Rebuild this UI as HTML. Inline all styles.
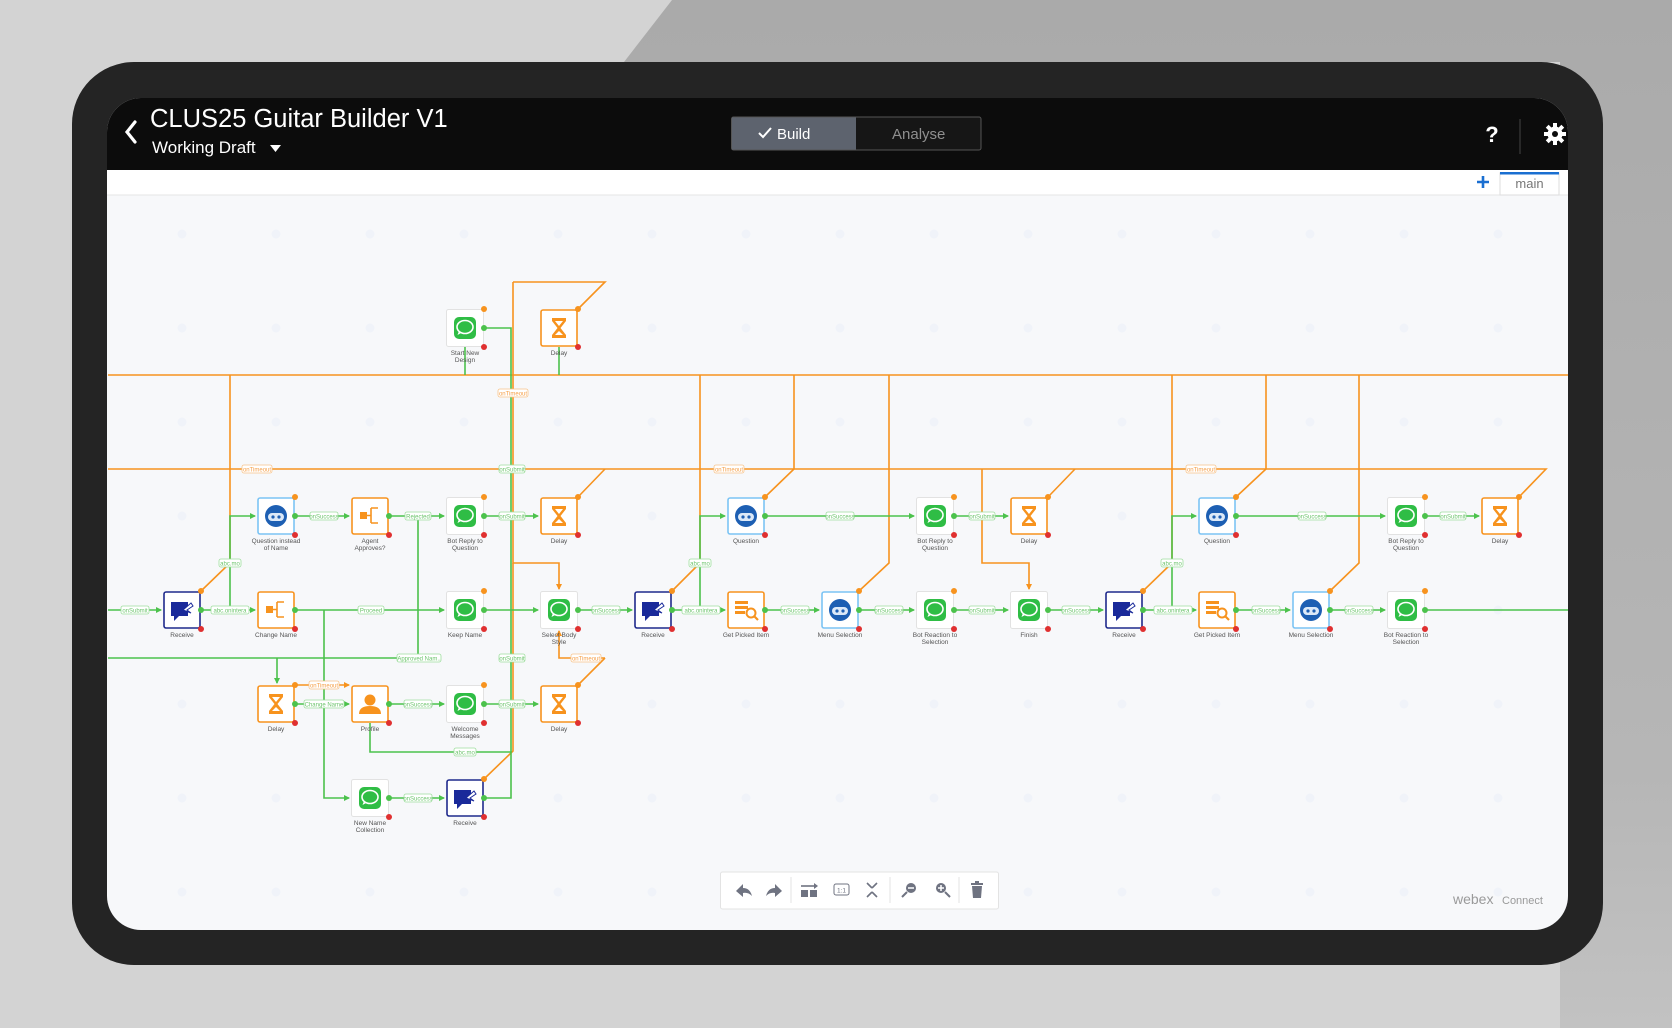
<!DOCTYPE html>
<html><head><meta charset="utf-8"><style>
html,body{margin:0;padding:0;width:1672px;height:1028px;overflow:hidden;background:#d2d2d2}
svg{display:block}
text{font-family:"Liberation Sans",sans-serif}
.nl{font-size:6.5px;fill:#555;text-anchor:middle}
.lg{font-size:6px;fill:#6cc46c;text-anchor:middle}
.lo{font-size:6px;fill:#f5a04a;text-anchor:middle}
</style></head><body>
<svg width="1672" height="1028" viewBox="0 0 1672 1028" xmlns="http://www.w3.org/2000/svg">
<defs>
<linearGradient id="bg" x1="0" y1="0" x2="0" y2="1"><stop offset="0" stop-color="#aaaaaa"/><stop offset="0.75" stop-color="#b6b6b6"/><stop offset="1" stop-color="#c2c2c2"/></linearGradient>
<marker id="ag" markerWidth="6" markerHeight="6" refX="5" refY="3" orient="auto" markerUnits="userSpaceOnUse"><path d="M0,0 L6,3 L0,6z" fill="#4cc24c"/></marker>
<marker id="ao" markerWidth="6" markerHeight="6" refX="5" refY="3" orient="auto" markerUnits="userSpaceOnUse"><path d="M0,0 L6,3 L0,6z" fill="#f7931e"/></marker>
<pattern id="dots" x="135" y="187" width="94" height="94" patternUnits="userSpaceOnUse"><circle cx="47" cy="47" r="4.5" fill="#f0f3f9"/></pattern>
<symbol id="msg" viewBox="0 0 38 38"><rect x="0.5" y="0.5" width="37" height="37" rx="2" fill="#fff" stroke="#e2e2e2"/><rect x="8" y="8" width="22" height="22" rx="5" fill="#2fbd45"/><ellipse cx="19" cy="18" rx="8" ry="6.5" fill="none" stroke="#fff" stroke-width="1.6"/><path d="M13 22 L11.5 26 L16 23.5" fill="#fff"/></symbol>
<symbol id="delay" viewBox="0 0 38 38"><rect x="1" y="1" width="36" height="36" rx="2" fill="#fff" stroke="#f7931e" stroke-width="1.6"/><path d="M12 9 H26 V12 L20.5 19 L26 26 V29 H12 V26 L17.5 19 L12 12z" fill="#f7931e"/><path d="M15 12 H23 L19 17z M15 26 L19 22 L23 26z" fill="#fff"/></symbol>
<symbol id="q" viewBox="0 0 38 38"><rect x="1" y="1" width="36" height="36" rx="2" fill="#fff" stroke="#7cc4f4" stroke-width="1.6"/><circle cx="19" cy="19" r="11" fill="#1d5fb3"/><rect x="11" y="16" width="16" height="8" rx="4" fill="#dce9f8"/><circle cx="16" cy="20" r="1.6" fill="#1d5fb3"/><circle cx="22" cy="20" r="1.6" fill="#1d5fb3"/></symbol>
<symbol id="rcv" viewBox="0 0 38 38"><rect x="1" y="1" width="36" height="36" rx="2" fill="#fff" stroke="#1f2a8c" stroke-width="1.6"/><path d="M8 11 H25 V25 H16 L11 30 V25 H8z" fill="#1a2a9a"/><path d="M20 19 L28 12 L30 15 L24 19 L28 22 Z" fill="#fff" stroke="#1a2a9a" stroke-width="1"/></symbol>
<symbol id="br" viewBox="0 0 38 38"><rect x="1" y="1" width="36" height="36" rx="2" fill="#fff" stroke="#f7931e" stroke-width="1.6"/><rect x="9" y="15" width="7" height="7" fill="#f7931e"/><path d="M16 18.5 H20 M20 11 V26 M20 11 H27 M20 26 H27" stroke="#f7931e" stroke-width="1.6" fill="none"/></symbol>
<symbol id="prof" viewBox="0 0 38 38"><rect x="1" y="1" width="36" height="36" rx="2" fill="#fff" stroke="#f7931e" stroke-width="1.6"/><circle cx="19" cy="15" r="5.5" fill="#f7931e"/><path d="M8 29 Q8 21 19 21 Q30 21 30 29z" fill="#f7931e"/></symbol>
<symbol id="gi" viewBox="0 0 38 38"><rect x="1" y="1" width="36" height="36" rx="2" fill="#fff" stroke="#f7931e" stroke-width="1.6"/><rect x="8" y="10" width="13" height="3" fill="#f7931e"/><rect x="8" y="15" width="13" height="3" fill="#f7931e"/><rect x="8" y="20" width="10" height="3" fill="#f7931e"/><circle cx="24" cy="22" r="4.5" fill="none" stroke="#f7931e" stroke-width="2"/><path d="M27 25 L31 29" stroke="#f7931e" stroke-width="2.2"/></symbol>
</defs>

<rect width="1672" height="1028" fill="#d3d3d3"/>
<polygon points="672,0 1672,0 1672,1028 1560,1028 1560,62 624,62" fill="url(#bg)"/>
<rect x="72" y="62" width="1531" height="903" rx="62" fill="#242424"/>
<clipPath id="scr"><rect x="107" y="98" width="1461" height="832" rx="34"/></clipPath>
<g clip-path="url(#scr)">
<rect x="107" y="98" width="1461" height="832" fill="#f7f8fa"/>
<rect x="107" y="195" width="1461" height="735" fill="url(#dots)"/>
<rect x="107" y="98" width="1461" height="72" fill="#0c0c0c"/>
<rect x="107" y="170" width="1461" height="25" fill="#fff"/>
<line x1="107" y1="195" x2="1568" y2="195" stroke="#e6e6e6"/>
</g>
<path d="M135 122 L127 132 L135 142" stroke="#fff" stroke-width="3.2" fill="none" stroke-linecap="round"/>
<text x="150" y="127" font-size="25.5" fill="#fff">CLUS25 Guitar Builder V1</text>
<text x="152" y="153" font-size="17" fill="#fff">Working Draft</text>
<path d="M270 145 H281 L275.5 152z" fill="#fff"/>
<rect x="731.5" y="117" width="249.5" height="33" rx="2" fill="#161616" stroke="#555"/>
<rect x="732" y="117.5" width="124" height="32" fill="#5d636e"/>
<path d="M759 133 L763 137 L771 128" stroke="#fff" stroke-width="2" fill="none"/>
<text x="777" y="139" font-size="15" fill="#fff">Build</text>
<text x="892" y="139" font-size="15" fill="#8f8f8f">Analyse</text>
<text x="1492" y="142" font-size="22" fill="#fff" text-anchor="middle" font-weight="bold">?</text>
<line x1="1520" y1="119" x2="1520" y2="154" stroke="#444"/>
<g transform="translate(1555,134)" fill="#fff"><circle r="7.5"/><g stroke="#fff" stroke-width="4"><line x1="0" y1="-11" x2="0" y2="11"/><line x1="-11" y1="0" x2="11" y2="0"/><line x1="-7.8" y1="-7.8" x2="7.8" y2="7.8"/><line x1="-7.8" y1="7.8" x2="7.8" y2="-7.8"/></g><circle r="3" fill="#0c0c0c"/></g>
<path d="M1483 176 V188 M1477 182 H1489" stroke="#1a6fd1" stroke-width="2.6"/>
<rect x="1500" y="173" width="59" height="22" fill="#fff" stroke="#ddd"/>
<rect x="1500" y="172" width="59" height="2.5" fill="#1a6fd1"/>
<text x="1529.5" y="188" font-size="13" fill="#777" text-anchor="middle">main</text>

<g stroke="#f7931e" stroke-width="1.6" fill="none">
<path d="M108 375 H1568"/>
<path d="M108 469 H1546 L1519 497"/>
<path d="M605 469 L578 497"/><path d="M1075 469 L1048 497"/>
<path d="M513 282 H605 L578 309"/>
<path d="M513 282 V563 H559 V589" marker-end="url(#ao)"/>
<path d="M230 375 V563 L201 591"/>
<path d="M700 375 V563 L672 591"/>
<path d="M794 375 V469 L765 497"/>
<path d="M889 375 V563 L859 591"/>
<path d="M1172 375 V563 L1143 591"/>
<path d="M1266 375 V469 L1236 497"/>
<path d="M1359 375 V563 L1330 591"/>
<path d="M982 469 V563 H1029 V589" marker-end="url(#ao)"/>
<path d="M605 658 L578 685"/>
<path d="M605 658 H559 V631" marker-end="url(#ao)"/>
<path d="M484 779 L513 751 V563"/>
<path d="M295 685 H349" marker-end="url(#ao)"/>
</g>
<g stroke="#4cc24c" stroke-width="1.6" fill="none">
<path d="M108 610 H161" marker-end="url(#ag)"/>
<path d="M201 610 H255" marker-end="url(#ag)"/>
<path d="M295 610 H444" marker-end="url(#ag)"/>
<path d="M484 610 H538" marker-end="url(#ag)"/>
<path d="M578 610 H632" marker-end="url(#ag)"/>
<path d="M672 610 H725" marker-end="url(#ag)"/>
<path d="M765 610 H819" marker-end="url(#ag)"/>
<path d="M859 610 H914" marker-end="url(#ag)"/>
<path d="M954 610 H1008" marker-end="url(#ag)"/>
<path d="M1048 610 H1103" marker-end="url(#ag)"/>
<path d="M1143 610 H1196" marker-end="url(#ag)"/>
<path d="M1236 610 H1290" marker-end="url(#ag)"/>
<path d="M1330 610 H1385" marker-end="url(#ag)"/>
<path d="M1425 610 H1568"/>
<path d="M230 610 V516 H255" marker-end="url(#ag)"/>
<path d="M295 516 H349" marker-end="url(#ag)"/>
<path d="M389 516 H444" marker-end="url(#ag)"/>
<path d="M484 516 H538" marker-end="url(#ag)"/>
<path d="M418 516 V658 H108"/>
<path d="M277 658 V683" marker-end="url(#ag)"/>
<path d="M700 610 V516 H725" marker-end="url(#ag)"/>
<path d="M765 516 H914" marker-end="url(#ag)"/>
<path d="M954 516 H1008" marker-end="url(#ag)"/>
<path d="M1172 610 V516 H1196" marker-end="url(#ag)"/>
<path d="M1236 516 H1385" marker-end="url(#ag)"/>
<path d="M1425 516 H1479" marker-end="url(#ag)"/>
<path d="M324 610 V798 H349" marker-end="url(#ag)"/>
<path d="M295 704 H349" marker-end="url(#ag)"/>
<path d="M389 704 H444" marker-end="url(#ag)"/>
<path d="M484 704 H538" marker-end="url(#ag)"/>
<path d="M370 723 V752 H511"/>
<path d="M389 798 H444" marker-end="url(#ag)"/>
<path d="M484 798 H511 V328 H484"/>
<path d="M465 347 V375"/><path d="M559 347 V375"/>
</g>
<g stroke-width="0.8">
<g fill="#fff" stroke="#9ede9e">
<rect x="121" y="606" width="28" height="8" rx="2"/><rect x="211" y="606" width="38" height="8" rx="2"/>
<rect x="358" y="606" width="26" height="8" rx="2"/><rect x="592" y="606" width="28" height="8" rx="2"/>
<rect x="682" y="606" width="38" height="8" rx="2"/><rect x="781" y="606" width="28" height="8" rx="2"/>
<rect x="875" y="606" width="28" height="8" rx="2"/><rect x="969" y="606" width="26" height="8" rx="2"/>
<rect x="1062" y="606" width="28" height="8" rx="2"/><rect x="1154" y="606" width="38" height="8" rx="2"/>
<rect x="1252" y="606" width="28" height="8" rx="2"/><rect x="1345" y="606" width="28" height="8" rx="2"/>
<rect x="310" y="512" width="28" height="8" rx="2"/><rect x="405" y="512" width="26" height="8" rx="2"/>
<rect x="499" y="512" width="26" height="8" rx="2"/><rect x="826" y="512" width="28" height="8" rx="2"/>
<rect x="969" y="512" width="26" height="8" rx="2"/><rect x="1298" y="512" width="28" height="8" rx="2"/>
<rect x="1440" y="512" width="26" height="8" rx="2"/>
<rect x="219" y="559" width="22" height="8" rx="2"/><rect x="689" y="559" width="22" height="8" rx="2"/><rect x="1161" y="559" width="22" height="8" rx="2"/>
<rect x="397" y="654" width="44" height="8" rx="2"/><rect x="499" y="654" width="26" height="8" rx="2"/>
<rect x="499" y="465" width="26" height="8" rx="2"/>
<rect x="304" y="700" width="40" height="8" rx="2"/><rect x="404" y="700" width="28" height="8" rx="2"/><rect x="499" y="700" width="26" height="8" rx="2"/>
<rect x="454" y="748" width="22" height="8" rx="2"/><rect x="404" y="794" width="28" height="8" rx="2"/>
</g>
<g fill="#fff" stroke="#f8c48a">
<rect x="242" y="465" width="30" height="8" rx="2"/><rect x="714" y="465" width="30" height="8" rx="2"/><rect x="1186" y="465" width="30" height="8" rx="2"/>
<rect x="498" y="389" width="30" height="8" rx="2"/><rect x="571" y="654" width="30" height="8" rx="2"/><rect x="309" y="681" width="30" height="8" rx="2"/>
</g>
</g>
<g class="lg">
<text x="135" y="612.3">onSubmit</text><text x="230" y="612.3">abc.onintera</text><text x="371" y="612.3">Proceed</text>
<text x="606" y="612.3">onSuccess</text><text x="701" y="612.3">abc.onintera</text><text x="795" y="612.3">onSuccess</text>
<text x="889" y="612.3">onSuccess</text><text x="982" y="612.3">onSubmit</text><text x="1076" y="612.3">onSuccess</text>
<text x="1173" y="612.3">abc.onintera</text><text x="1266" y="612.3">onSuccess</text><text x="1359" y="612.3">onSuccess</text>
<text x="324" y="518.3">onSuccess</text><text x="418" y="518.3">Rejected</text><text x="512" y="518.3">onSubmit</text>
<text x="840" y="518.3">onSuccess</text><text x="982" y="518.3">onSubmit</text><text x="1312" y="518.3">onSuccess</text><text x="1453" y="518.3">onSubmit</text>
<text x="230" y="565.3">abc.mo</text><text x="700" y="565.3">abc.mo</text><text x="1172" y="565.3">abc.mo</text>
<text x="419" y="660.3">Approved Nam..</text><text x="512" y="660.3">onSubmit</text><text x="512" y="471.3">onSubmit</text>
<text x="324" y="706.3">Change Name</text><text x="418" y="706.3">onSuccess</text><text x="512" y="706.3">onSubmit</text>
<text x="465" y="754.3">abc.mo</text><text x="418" y="800.3">onSuccess</text>
</g>
<g class="lo">
<text x="257" y="471.3">onTimeout</text><text x="729" y="471.3">onTimeout</text><text x="1201" y="471.3">onTimeout</text>
<text x="513" y="395.3">onTimeout</text><text x="586" y="660.3">onTimeout</text><text x="324" y="687.3">onTimeout</text>
</g>

<g>
<use href="#msg" x="446" y="309" width="38" height="38"/><use href="#delay" x="540" y="309" width="38" height="38"/>
<use href="#q" x="257" y="497" width="38" height="38"/><use href="#br" x="351" y="497" width="38" height="38"/>
<use href="#msg" x="446" y="497" width="38" height="38"/><use href="#delay" x="540" y="497" width="38" height="38"/>
<use href="#q" x="727" y="497" width="38" height="38"/><use href="#msg" x="916" y="497" width="38" height="38"/>
<use href="#delay" x="1010" y="497" width="38" height="38"/><use href="#q" x="1198" y="497" width="38" height="38"/>
<use href="#msg" x="1387" y="497" width="38" height="38"/><use href="#delay" x="1481" y="497" width="38" height="38"/>
<use href="#rcv" x="163" y="591" width="38" height="38"/><use href="#br" x="257" y="591" width="38" height="38"/>
<use href="#msg" x="446" y="591" width="38" height="38"/><use href="#msg" x="540" y="591" width="38" height="38"/>
<use href="#rcv" x="634" y="591" width="38" height="38"/><use href="#gi" x="727" y="591" width="38" height="38"/>
<use href="#q" x="821" y="591" width="38" height="38"/><use href="#msg" x="916" y="591" width="38" height="38"/>
<use href="#msg" x="1010" y="591" width="38" height="38"/><use href="#rcv" x="1105" y="591" width="38" height="38"/>
<use href="#gi" x="1198" y="591" width="38" height="38"/><use href="#q" x="1292" y="591" width="38" height="38"/>
<use href="#msg" x="1387" y="591" width="38" height="38"/>
<use href="#delay" x="257" y="685" width="38" height="38"/><use href="#prof" x="351" y="685" width="38" height="38"/>
<use href="#msg" x="446" y="685" width="38" height="38"/><use href="#delay" x="540" y="685" width="38" height="38"/>
<use href="#msg" x="351" y="779" width="38" height="38"/><use href="#rcv" x="446" y="779" width="38" height="38"/>
</g>
<g fill="#f7931e">
<circle cx="484" cy="309" r="3"/><circle cx="578" cy="309" r="3"/>
<circle cx="295" cy="497" r="3"/><circle cx="484" cy="497" r="3"/><circle cx="578" cy="497" r="3"/><circle cx="765" cy="497" r="3"/><circle cx="954" cy="497" r="3"/><circle cx="1048" cy="497" r="3"/><circle cx="1236" cy="497" r="3"/><circle cx="1425" cy="497" r="3"/><circle cx="1519" cy="497" r="3"/>
<circle cx="201" cy="591" r="3"/><circle cx="484" cy="591" r="3"/><circle cx="672" cy="591" r="3"/><circle cx="859" cy="591" r="3"/><circle cx="954" cy="591" r="3"/><circle cx="1143" cy="591" r="3"/><circle cx="1330" cy="591" r="3"/><circle cx="1425" cy="591" r="3"/>
<circle cx="295" cy="685" r="3"/><circle cx="484" cy="685" r="3"/><circle cx="578" cy="685" r="3"/><circle cx="484" cy="779" r="3"/>
</g>
<g fill="#e03030">
<circle cx="484" cy="347" r="3"/><circle cx="578" cy="347" r="3"/>
<circle cx="295" cy="535" r="3"/><circle cx="389" cy="535" r="3"/><circle cx="484" cy="535" r="3"/><circle cx="578" cy="535" r="3"/><circle cx="765" cy="535" r="3"/><circle cx="954" cy="535" r="3"/><circle cx="1048" cy="535" r="3"/><circle cx="1236" cy="535" r="3"/><circle cx="1425" cy="535" r="3"/><circle cx="1519" cy="535" r="3"/>
<circle cx="201" cy="629" r="3"/><circle cx="295" cy="629" r="3"/><circle cx="484" cy="629" r="3"/><circle cx="578" cy="629" r="3"/><circle cx="672" cy="629" r="3"/><circle cx="765" cy="629" r="3"/><circle cx="859" cy="629" r="3"/><circle cx="954" cy="629" r="3"/><circle cx="1048" cy="629" r="3"/><circle cx="1143" cy="629" r="3"/><circle cx="1236" cy="629" r="3"/><circle cx="1330" cy="629" r="3"/><circle cx="1425" cy="629" r="3"/>
<circle cx="295" cy="723" r="3"/><circle cx="389" cy="723" r="3"/><circle cx="484" cy="723" r="3"/><circle cx="578" cy="723" r="3"/><circle cx="389" cy="817" r="3"/><circle cx="484" cy="817" r="3"/>
</g>
<g fill="#4cc24c">
<circle cx="484" cy="328" r="3"/>
<circle cx="295" cy="516" r="3"/><circle cx="389" cy="516" r="3"/><circle cx="484" cy="516" r="3"/><circle cx="765" cy="516" r="3"/><circle cx="954" cy="516" r="3"/><circle cx="1236" cy="516" r="3"/><circle cx="1425" cy="516" r="3"/>
<circle cx="201" cy="610" r="3"/><circle cx="295" cy="610" r="3"/><circle cx="484" cy="610" r="3"/><circle cx="578" cy="610" r="3"/><circle cx="672" cy="610" r="3"/><circle cx="765" cy="610" r="3"/><circle cx="859" cy="610" r="3"/><circle cx="954" cy="610" r="3"/><circle cx="1048" cy="610" r="3"/><circle cx="1143" cy="610" r="3"/><circle cx="1236" cy="610" r="3"/><circle cx="1330" cy="610" r="3"/><circle cx="1425" cy="610" r="3"/>
<circle cx="295" cy="704" r="3"/><circle cx="389" cy="704" r="3"/><circle cx="484" cy="704" r="3"/><circle cx="389" cy="798" r="3"/><circle cx="484" cy="798" r="3"/>
</g>
<g class="nl">
<text x="465" y="355">Start New</text><text x="465" y="362">Design</text><text x="559" y="355">Delay</text>
<text x="276" y="543">Question instead</text><text x="276" y="550">of Name</text>
<text x="370" y="543">Agent</text><text x="370" y="550">Approves?</text>
<text x="465" y="543">Bot Reply to</text><text x="465" y="550">Question</text>
<text x="559" y="543">Delay</text><text x="746" y="543">Question</text>
<text x="935" y="543">Bot Reply to</text><text x="935" y="550">Question</text>
<text x="1029" y="543">Delay</text><text x="1217" y="543">Question</text>
<text x="1406" y="543">Bot Reply to</text><text x="1406" y="550">Question</text><text x="1500" y="543">Delay</text>
<text x="182" y="637">Receive</text><text x="276" y="637">Change Name</text><text x="465" y="637">Keep Name</text>
<text x="559" y="637">Select Body</text><text x="559" y="644">Style</text>
<text x="653" y="637">Receive</text><text x="746" y="637">Get Picked Item</text><text x="840" y="637">Menu Selection</text>
<text x="935" y="637">Bot Reaction to</text><text x="935" y="644">Selection</text>
<text x="1029" y="637">Finish</text><text x="1124" y="637">Receive</text><text x="1217" y="637">Get Picked Item</text>
<text x="1311" y="637">Menu Selection</text><text x="1406" y="637">Bot Reaction to</text><text x="1406" y="644">Selection</text>
<text x="276" y="731">Delay</text><text x="370" y="731">Profile</text>
<text x="465" y="731">Welcome</text><text x="465" y="738">Messages</text><text x="559" y="731">Delay</text>
<text x="370" y="825">New Name</text><text x="370" y="832">Collection</text><text x="465" y="825">Receive</text>
</g>

<rect x="720.5" y="872" width="278" height="37" rx="2" fill="#fff" stroke="#e3e3e3"/>
<g fill="#6f7381" stroke="#6f7381">
<path d="M736 891 L743 884 V888 Q750 888 752 896 Q748 892 743 893 V897z" stroke="none"/>
<path d="M782 891 L775 884 V888 Q768 888 766 896 Q770 892 775 893 V897z" stroke="none"/>
<line x1="791" y1="877" x2="791" y2="903" stroke="#e3e3e3"/>
<rect x="801" y="890" width="7" height="7" stroke="none"/><rect x="810" y="890" width="7" height="7" stroke="none"/><path d="M801 886 H815" stroke-width="1.6" fill="none"/><path d="M814 883 L818 886 L814 889z" stroke="none"/>
<rect x="834" y="884" width="15" height="11" rx="2" fill="none" stroke-width="1"/><text x="841.5" y="892.5" font-size="6.5" text-anchor="middle" stroke="none">1:1</text>
<path d="M867 883 L872 888 M877 883 L872 888 M867 897 L872 892 M877 897 L872 892" stroke-width="1.6" fill="none"/>
<line x1="890" y1="877" x2="890" y2="903" stroke="#e3e3e3"/>
<circle cx="911" cy="888" r="5" stroke="none"/><path d="M907 892 L902 897" stroke-width="2"/><path d="M908 888 H914" stroke="#fff" stroke-width="1.5"/>
<circle cx="941" cy="888" r="5" stroke="none"/><path d="M945 892 L950 897" stroke-width="2"/><path d="M938 888 H944 M941 885 V891" stroke="#fff" stroke-width="1.5"/>
<line x1="959" y1="877" x2="959" y2="903" stroke="#e3e3e3"/>
<rect x="971" y="883" width="12" height="2" stroke="none"/><rect x="975" y="881" width="4" height="2" stroke="none"/><path d="M972 886 H982 L981 898 H973z" stroke="none"/>
</g>
<text x="1453" y="904" font-size="14" fill="#9a9a9a">webex</text><text x="1502" y="904" font-size="11" fill="#9a9a9a">Connect</text>
</svg>
</body></html>
